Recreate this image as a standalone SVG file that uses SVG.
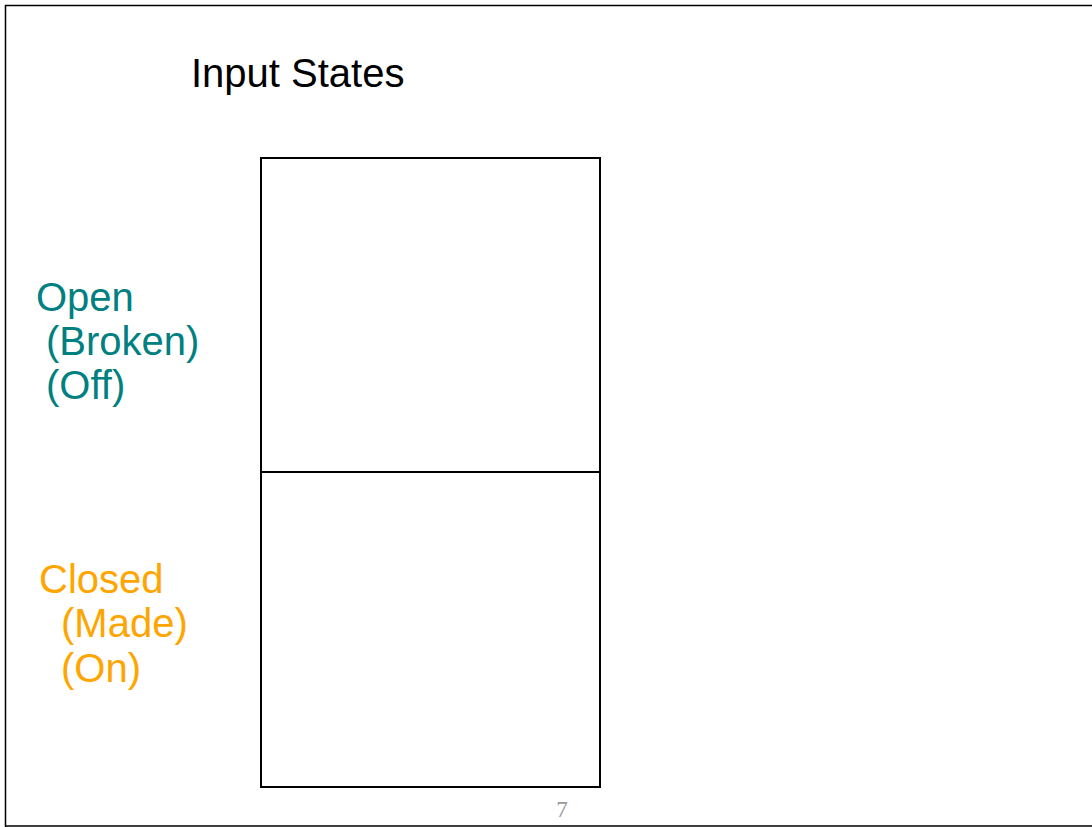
<svg xmlns="http://www.w3.org/2000/svg" width="1092" height="827" viewBox="0 0 1092 827">
<style>
.t{font-family:"Liberation Sans",Arial,sans-serif;font-size:40px}
.open{fill:#008080}
.closed{fill:#FFA500}
.box{fill:none;stroke:#000;stroke-width:2}
</style>
<rect x="0" y="0" width="1092" height="827" fill="#fff"/>
<path d="M5.5 827 V5.5 H1092 M5 826 H1092" fill="none" stroke="#000" stroke-width="1.5"/>
<text class="t" x="191" y="87" fill="#000">Input States</text>
<g id="node-open">
<rect class="box" x="261" y="158" width="339" height="314"/>
<text class="t open" x="36" y="311">Open</text>
<text class="t open" x="46" y="355">(Broken)</text>
<text class="t open" x="46" y="399">(Off)</text>
</g>
<g id="node-closed">
<rect class="box" x="261" y="472" width="339" height="315"/>
<text class="t closed" x="39" y="593">Closed</text>
<text class="t closed" x="61" y="637">(Made)</text>
<text class="t closed" x="61" y="682">(On)</text>
</g>
<g id="connectors"/>
<text x="562" y="817" font-family="Liberation Serif,serif" font-size="23" fill="#999" text-anchor="middle">7</text>
</svg>
